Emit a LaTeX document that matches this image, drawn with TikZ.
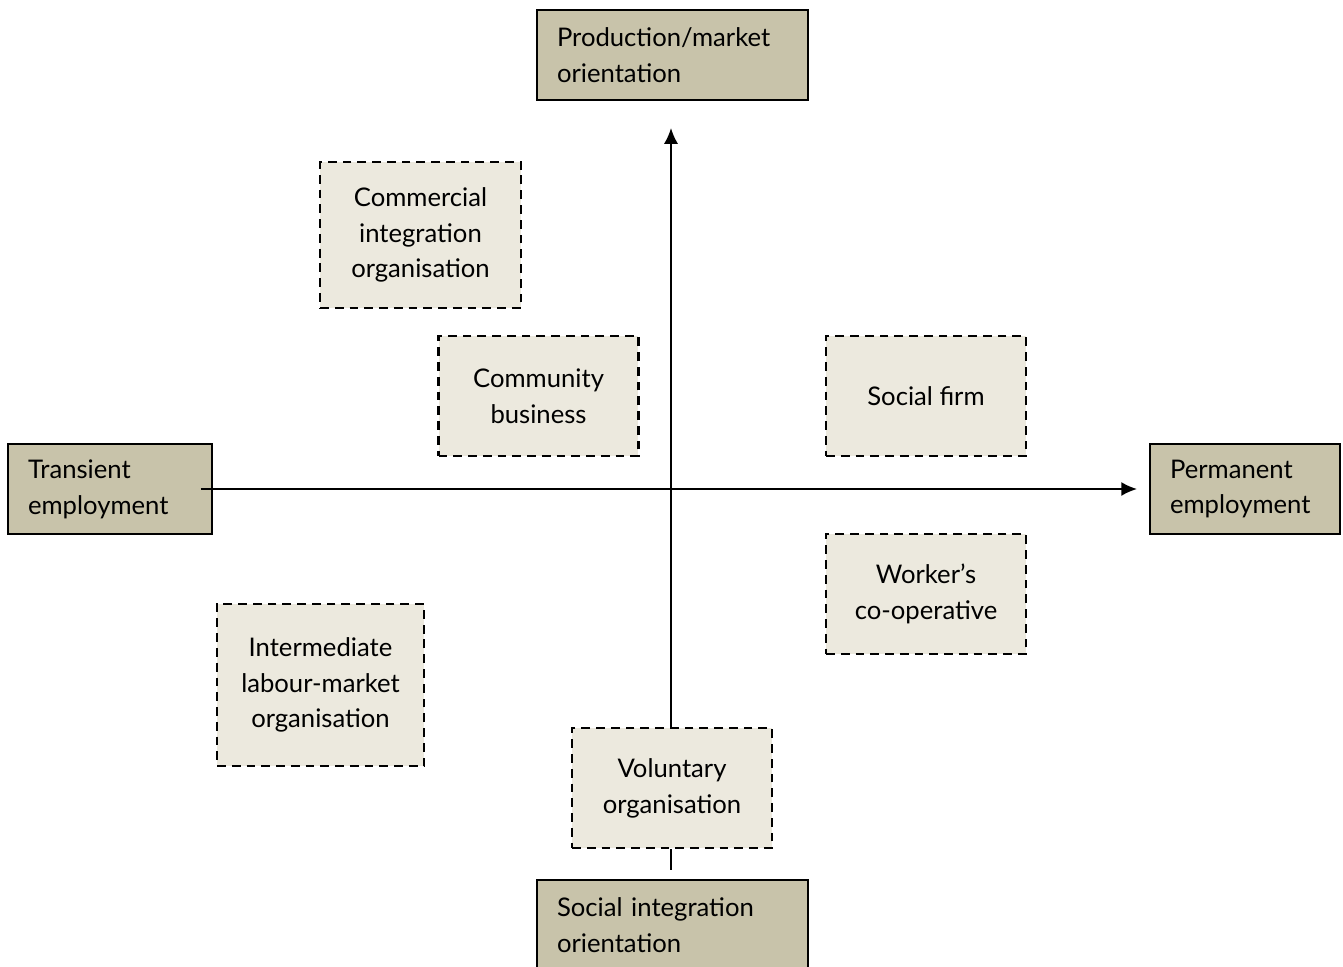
\documentclass[tikz,border=0pt]{standalone}
\usepackage{fontspec}
\setmainfont{Lato}
\usetikzlibrary{arrows.meta}
\definecolor{axisfill}{RGB}{200,195,170}
\definecolor{typefill}{RGB}{236,233,222}
\begin{document}
\begin{tikzpicture}[x=0.02cm, y=-0.02cm, font=\fontsize{14.6}{20.4}\selectfont,
		axisbox/.style={draw, fill=axisfill, line width=1.1pt, align=left, inner xsep=0.4cm, minimum height=1.8cm},
		typebox/.style={draw, fill=typefill, line width=1.5pt, dash pattern=on 5pt off 3.4pt, align=center},
		axisline/.style={line width=1.1pt, -{Latex[length=9pt, width=8pt]}}]
		\useasboundingbox (0,0) rectangle (1343,967);
		% axis ends
		\node[axisbox, text width=4.62cm] (prod) at (672.5,55) {Production/market\\orientation};
		\node[axisbox, text width=4.62cm] (social) at (672.5,925) {Social integration\\orientation};
		\node[axisbox, text width=3.28cm] (trans) at (110,489) {Transient\\employment};
		\node[axisbox, text width=3.0cm] (perm) at (1245,489) {Permanent\\employment};
		% types of organisation
		\node[typebox, minimum width=4.02cm, minimum height=2.92cm] (commercial) at (420.5,235) {Commercial\\integration\\organisation};
		\node[typebox, minimum width=4cm, minimum height=2.4cm] (community) at (538.5,396) {Community\\business};
		\node[typebox, minimum width=4cm, minimum height=2.4cm] (firm) at (926,396) {Social firm};
		\node[typebox, minimum width=4cm, minimum height=2.4cm] (coop) at (926,594) {Worker’s\\co-operative};
		\node[typebox, minimum width=4.14cm, minimum height=3.24cm] (ilmo) at (320.5,685) {Intermediate\\labour-market\\organisation};
		\node[typebox, minimum width=4cm, minimum height=2.4cm] (voluntary) at (672,788) {Voluntary\\organisation};
		% axes
		\coordinate (stub) at (671,870);
		\draw[axisline] ([xshift=-0.24cm]trans.east) -- ([xshift=-0.24cm]perm.west);
		\draw[axisline] (voluntary.north -| 671,0) -- ([yshift=-0.54cm]prod.south -| 671,0);
		\draw[line width=0.8pt] (voluntary.south -| stub) -- (stub);
	\end{tikzpicture}
\end{document}
